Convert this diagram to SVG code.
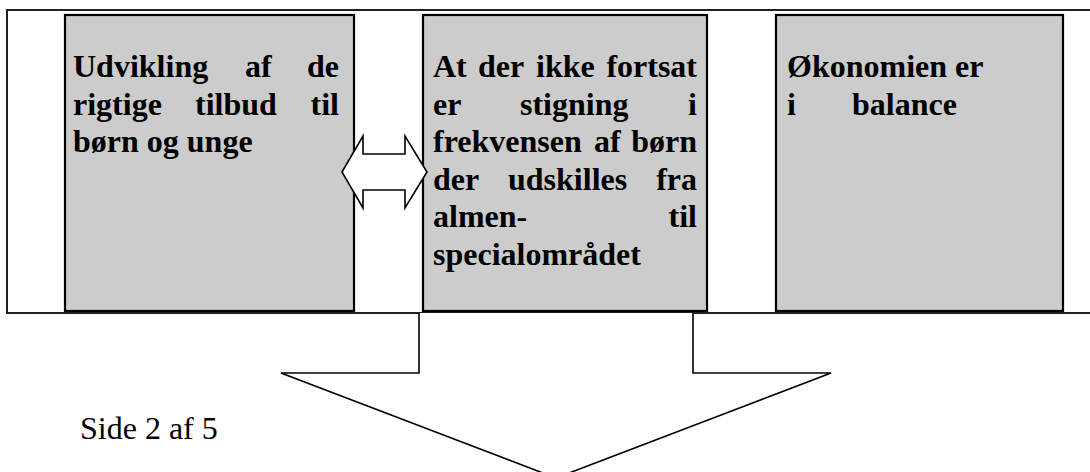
<svg xmlns="http://www.w3.org/2000/svg" width="1090" height="472" viewBox="0 0 1090 472">
  <style>
    .frame { fill: none; stroke: #222; stroke-width: 2; }
    .box { fill: #cccccc; stroke: #000; stroke-width: 2.2; }
    .arrow { fill: #ffffff; stroke: #000; stroke-width: 1.6; stroke-linejoin: miter; }
    .t { font-family: "Liberation Serif", "Times New Roman", serif; font-size: 32px; font-weight: bold; fill: #000; }
    .end { text-anchor: end; }
    .footer { font-family: "Liberation Serif", "Times New Roman", serif; font-size: 32px; fill: #000; }
  </style>

  <g id="frame">
    <rect class="frame" x="7" y="10" width="1100" height="303"/>
  </g>

  <g id="node-udvikling">
    <rect class="box" x="65" y="15" width="289" height="296"/>
    <text class="t" y="77"><tspan x="73">Udvikling</tspan><tspan x="245">af</tspan><tspan x="339" class="end">de</tspan></text>
    <text class="t" y="114.5"><tspan x="73">rigtige</tspan><tspan x="195">tilbud</tspan><tspan x="339" class="end">til</tspan></text>
    <text class="t" x="73" y="152">børn og unge</text>
  </g>

  <g id="node-stigning">
    <rect class="box" x="423" y="15" width="284" height="296"/>
    <text class="t" y="77"><tspan x="433">At</tspan><tspan x="478">der</tspan><tspan x="536">ikke</tspan><tspan x="697" class="end">fortsat</tspan></text>
    <text class="t" y="114.5"><tspan x="433">er</tspan><tspan x="520">stigning</tspan><tspan x="697" class="end">i</tspan></text>
    <text class="t" y="152"><tspan x="433">frekvensen</tspan><tspan x="594">af</tspan><tspan x="697" class="end">børn</tspan></text>
    <text class="t" y="189.5"><tspan x="433">der</tspan><tspan x="508">udskilles</tspan><tspan x="697" class="end">fra</tspan></text>
    <text class="t" y="227"><tspan x="433">almen-</tspan><tspan x="697" class="end">til</tspan></text>
    <text class="t" x="433" y="264.5">specialområdet</text>
  </g>

  <g id="node-oekonomi">
    <rect class="box" x="776" y="15" width="287" height="296"/>
    <text class="t" x="787" y="77">Økonomien er</text>
    <text class="t" y="114.5"><tspan x="787">i</tspan><tspan x="852">balance</tspan></text>
  </g>

  <g id="connectors">
    <polygon class="arrow" points="342,172 363,136 363,154 405,154 405,136 427,172 405,208 405,190 363,190 363,208"/>
    <polygon points="419,314 693,314 693,373 831,373 556,478 281,373 419,373" fill="#ffffff" stroke="none"/>
    <polyline class="arrow" fill="none" points="419,313 419,373 281,373 556,478 831,373 693,373 693,313"/>
  </g>

  <g id="footer">
    <text class="footer" x="80" y="439">Side 2 af 5</text>
  </g>
</svg>
